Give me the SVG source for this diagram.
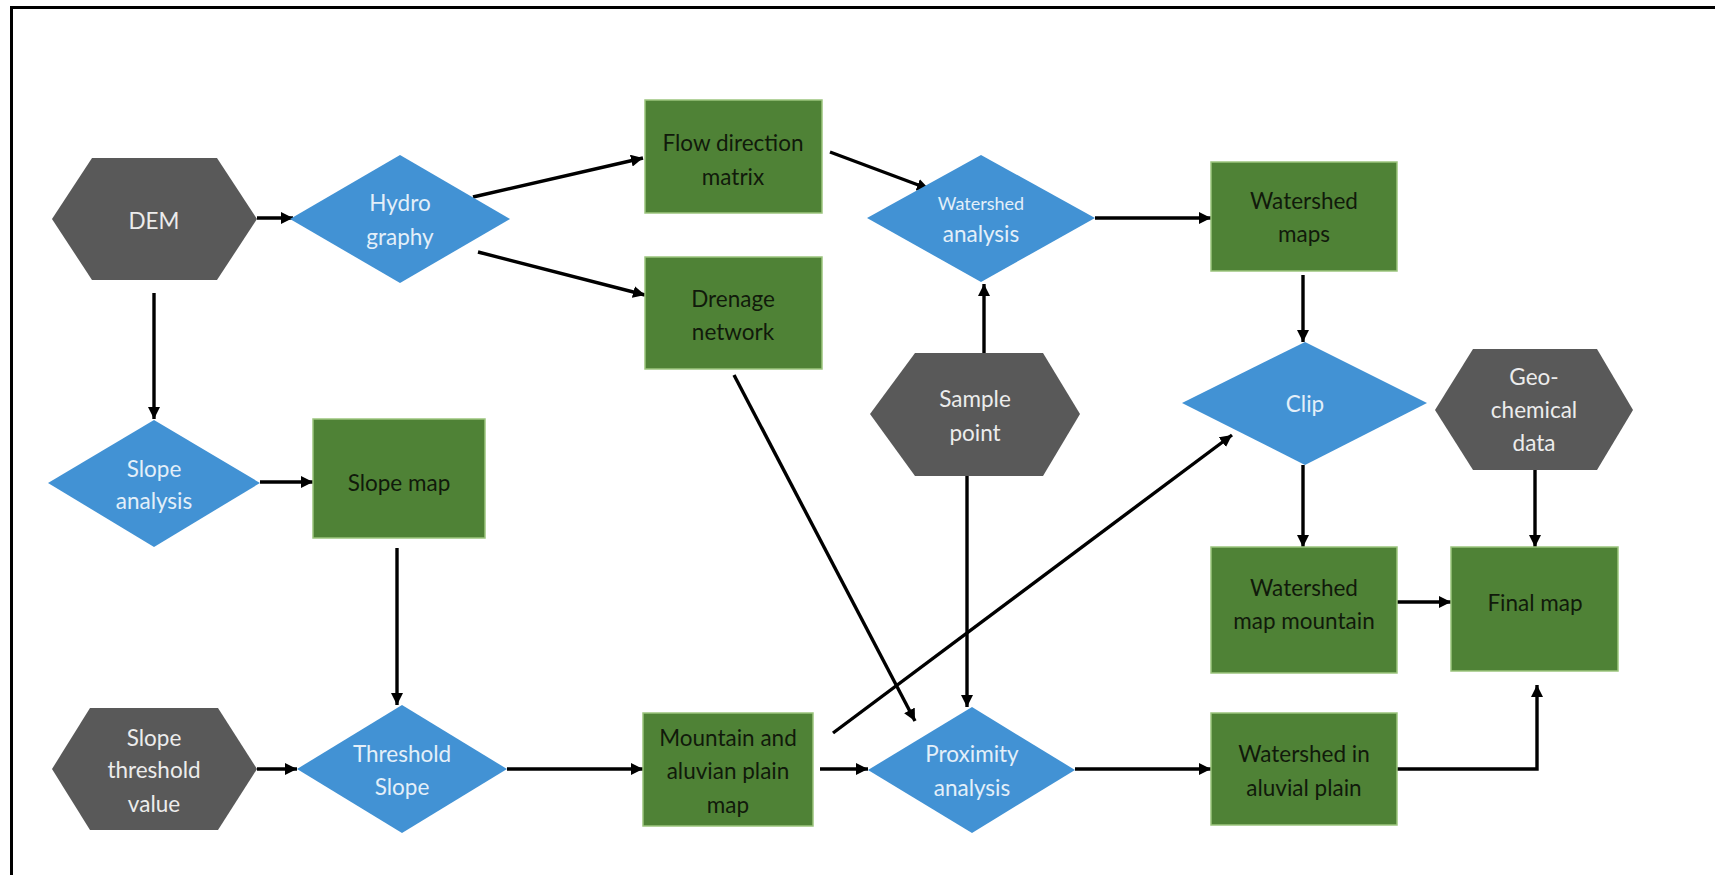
<svg xmlns="http://www.w3.org/2000/svg" width="1715" height="875" viewBox="0 0 1715 875">
<defs>
<marker id="ah" markerUnits="userSpaceOnUse" markerWidth="14" markerHeight="12" refX="12" refY="6" orient="auto">
<path d="M0,0 L12,6 L0,12 Z" fill="#000"/>
</marker>
<style>
.hex{fill:#595959;}
.dia{fill:#4292d4;}
.box{fill:#4f8236;stroke:#9cc57e;stroke-width:1.5;}
text{font-family:Lato,"Open Sans","Liberation Sans",sans-serif;font-size:22.5px;text-anchor:middle;dominant-baseline:central;}
.tl{fill:#ececec;}
.tb{fill:#e3eff9;}
.tg{fill:#111a0b;}
.conn path{fill:none;stroke:#000;stroke-width:3.4;marker-end:url(#ah);}
</style>
</defs>
<rect width="1715" height="875" fill="#fff"/>
<path d="M11.5,875 L11.5,7.5 L1715,7.5" fill="none" stroke="#000" stroke-width="3"/>

<g class="conn" id="connectors">
<path d="M257,218 L293,218"/>
<path d="M473,197 L643,158"/>
<path d="M478,252 L645,295"/>
<path d="M830,152 L929,189"/>
<path d="M1095,218 L1211,218"/>
<path d="M984,353 L984,284"/>
<path d="M1303,275 L1303,342"/>
<path d="M154,293 L154,419"/>
<path d="M260,482 L313,482"/>
<path d="M397,548 L397,705"/>
<path d="M257,769 L297,769"/>
<path d="M507,769 L643,769"/>
<path d="M820,769 L868,769"/>
<path d="M734,375 L915,721"/>
<path d="M833,733 L1232,435"/>
<path d="M967,476 L967,707"/>
<path d="M1075,769 L1211,769"/>
<path d="M1303,465 L1303,547"/>
<path d="M1535,470 L1535,547"/>
<path d="M1397,602 L1451,602"/>
<path d="M1397,769 L1537,769 L1537,685"/>
</g>

<g id="dem"><polygon class="hex" points="52,219 92,158 217,158 257,219 217,280 92,280"/><text class="tl" x="154" y="220">DEM</text></g>
<g id="hydrography"><polygon class="dia" points="400,155 510,219 400,283 290,219"/><text class="tb" x="400" y="202">Hydro</text><text class="tb" x="400" y="236">graphy</text></g>
<g id="flow-direction"><rect class="box" x="645" y="100" width="177" height="113"/><text class="tg" x="733" y="142">Flow direction</text><text class="tg" x="733" y="176">matrix</text></g>
<g id="drenage"><rect class="box" x="645" y="257" width="177" height="112"/><text class="tg" x="733" y="298">Drenage</text><text class="tg" x="733" y="331">network</text></g>
<g id="watershed-analysis"><polygon class="dia" points="981,155 1095,218 981,282 867,218"/><text class="tb" x="981" y="203" style="font-size:18px">Watershed</text><text class="tb" x="981" y="233">analysis</text></g>
<g id="watershed-maps"><rect class="box" x="1211" y="162" width="186" height="109"/><text class="tg" x="1304" y="200">Watershed</text><text class="tg" x="1304" y="233">maps</text></g>
<g id="sample-point"><polygon class="hex" points="870,414 915,353 1043,353 1080,414 1043,476 915,476"/><text class="tl" x="975" y="398">Sample</text><text class="tl" x="975" y="432">point</text></g>
<g id="clip"><polygon class="dia" points="1305,342 1427,403 1305,465 1182,403"/><text class="tb" x="1305" y="403">Clip</text></g>
<g id="geochemical"><polygon class="hex" points="1435,410 1473,349 1597,349 1633,410 1597,470 1473,470"/><text class="tl" x="1534" y="376">Geo-</text><text class="tl" x="1534" y="409">chemical</text><text class="tl" x="1534" y="442">data</text></g>
<g id="slope-analysis"><polygon class="dia" points="154,420 260,483 154,547 48,483"/><text class="tb" x="154" y="468">Slope</text><text class="tb" x="154" y="500">analysis</text></g>
<g id="slope-map"><rect class="box" x="313" y="419" width="172" height="119"/><text class="tg" x="399" y="482">Slope map</text></g>
<g id="slope-threshold-value"><polygon class="hex" points="52,769 90,708 218,708 257,769 218,830 90,830"/><text class="tl" x="154" y="737">Slope</text><text class="tl" x="154" y="769">threshold</text><text class="tl" x="154" y="803">value</text></g>
<g id="threshold-slope"><polygon class="dia" points="402,705 507,769 402,833 297,769"/><text class="tb" x="402" y="753">Threshold</text><text class="tb" x="402" y="786">Slope</text></g>
<g id="mountain"><rect class="box" x="643" y="713" width="170" height="113"/><text class="tg" x="728" y="737">Mountain and</text><text class="tg" x="728" y="770">aluvian plain</text><text class="tg" x="728" y="804">map</text></g>
<g id="proximity"><polygon class="dia" points="972,707 1075,770 972,833 868,770"/><text class="tb" x="972" y="753">Proximity</text><text class="tb" x="972" y="787">analysis</text></g>
<g id="watershed-map-mountain"><rect class="box" x="1211" y="547" width="186" height="126"/><text class="tg" x="1304" y="587">Watershed</text><text class="tg" x="1304" y="620">map mountain</text></g>
<g id="final-map"><rect class="box" x="1451" y="547" width="167" height="124"/><text class="tg" x="1535" y="602">Final map</text></g>
<g id="watershed-aluvial"><rect class="box" x="1211" y="713" width="186" height="112"/><text class="tg" x="1304" y="753">Watershed in</text><text class="tg" x="1304" y="787">aluvial plain</text></g>
</svg>
